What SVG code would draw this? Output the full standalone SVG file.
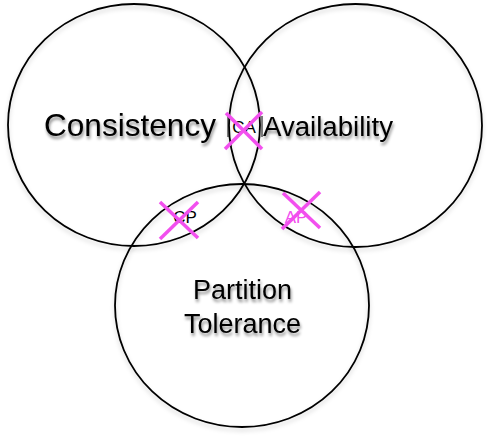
<svg xmlns="http://www.w3.org/2000/svg" width="489" height="439" viewBox="0 0 489 439">
<defs>
<filter id="ts" x="-20%" y="-30%" width="140%" height="170%">
<feDropShadow dx="1" dy="3" stdDeviation="1.6" flood-color="#000" flood-opacity="0.45"/>
</filter>
<filter id="cs" x="-10%" y="-10%" width="120%" height="125%">
<feDropShadow dx="0" dy="3" stdDeviation="2" flood-color="#000" flood-opacity="0.18"/>
</filter>
</defs>
<style>
.c{fill:none;stroke:#000;stroke-width:1.8}
.t{font-family:"Liberation Sans",Arial,sans-serif;fill:#000}
.x{stroke:#F24FEE;stroke-width:3.5;stroke-linecap:butt}
.b{stroke:#000;stroke-width:1}
</style>
<g id="consistency">
<ellipse class="c" filter="url(#cs)" cx="134" cy="125" rx="126" ry="121"/>
<text class="t" filter="url(#ts)" x="44" y="136" font-size="30.5" textLength="172" lengthAdjust="spacingAndGlyphs">Consistency</text>
</g>
<g id="availability">
<ellipse class="c" filter="url(#cs)" cx="355.5" cy="125.5" rx="126.5" ry="121.5"/>
<text class="t" filter="url(#ts)" x="263" y="136" font-size="27" textLength="130" lengthAdjust="spacingAndGlyphs">Availability</text>
</g>
<g id="partition">
<ellipse class="c" filter="url(#cs)" cx="242" cy="305.5" rx="127" ry="121.5"/>
<text class="t" filter="url(#ts)" x="242.5" y="299" font-size="27" text-anchor="middle">Partition</text>
<text class="t" filter="url(#ts)" x="242.5" y="333" font-size="27" text-anchor="middle">Tolerance</text>
</g>
<g id="ca">
<line class="b" x1="228" y1="116" x2="228" y2="137"/>
<line class="b" x1="262" y1="116" x2="262" y2="137"/>
<text class="t" x="244" y="133" font-size="17" text-anchor="middle">CA</text>
<line class="x" x1="226" y1="113" x2="262" y2="149"/>
<line class="x" x1="225" y1="149" x2="262" y2="112"/>
</g>
<g id="cp">
<text class="t" x="185" y="223" font-size="17" text-anchor="middle">CP</text>
<line class="x" x1="160" y1="202" x2="198" y2="238"/>
<line class="x" x1="160" y1="239" x2="198" y2="202"/>
</g>
<g id="ap">
<text class="t" x="296" y="223" font-size="17" text-anchor="middle" fill="#F24FEE" style="fill:#F24FEE">AP</text>
<line class="x" x1="283" y1="193" x2="320" y2="228"/>
<line class="x" x1="282" y1="229" x2="320" y2="192"/>
</g>
</svg>
